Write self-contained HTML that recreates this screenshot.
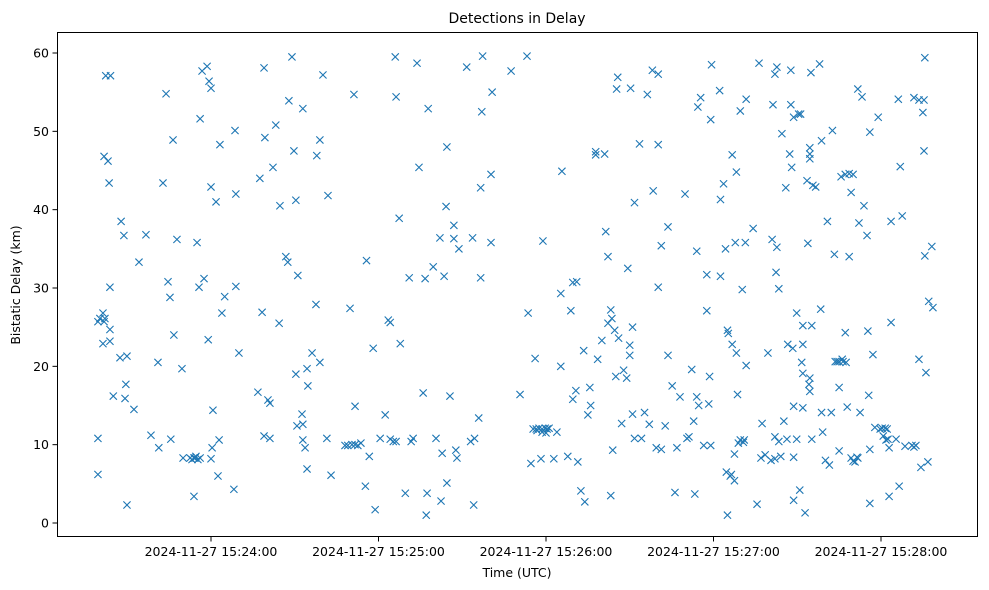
<!DOCTYPE html>
<html><head><meta charset="utf-8"><title>Detections in Delay</title>
<style>
html,body{margin:0;padding:0;background:#fff;}
svg{display:block;font-family:"DejaVu Sans","Liberation Sans",sans-serif;}
</style></head>
<body>
<svg id="chart" width="989" height="590" viewBox="0 0 989 590">
<rect x="0" y="0" width="989" height="590" fill="#fff"/>
<text x="517" y="23" text-anchor="middle" font-size="14" fill="#000">Detections in Delay</text>
<g id="marks"></g>
<g id="xaxis"></g>
<g id="yaxis"></g>
<rect x="57.5" y="32.5" width="920" height="504" fill="none" stroke="#000" stroke-width="1"/>
<text x="517" y="577" text-anchor="middle" font-size="12.5" fill="#000">Time (UTC)</text>
<text x="20" y="285" text-anchor="middle" font-size="12.5" fill="#000" transform="rotate(-90 20 285)">Bistatic Delay (km)</text>
</svg>
<script>
// seconds after 15:23:00 UTC, delay in km
const detections = [
[19.5,6.2],[19.5,10.8],[19.5,25.7],[20.2,26.1],[21.3,26.8],[21.7,25.7],[22,26.1],[21.3,22.9],[21.7,46.8],[22.3,57.1],[24,57.1],[23.1,46.2],[23.5,43.4],[23.8,30.1],[23.8,24.7],[23.8,23.2],[25,16.2],[27.4,21.1],[27.8,38.5],[28.8,36.7],[29.5,17.7],[29.9,21.3],[29.2,15.9],[29.9,2.3],[32.4,14.5],[34.2,33.3],[36.7,36.8],[38.5,11.2],[41,20.5],[41.3,9.6],[42.8,43.4],[43.9,54.8],[44.6,30.8],[45.3,28.8],[45.6,10.7],[46.4,48.9],[46.7,24],[47.8,36.2],[49.6,19.7],[50,8.3],
[52.5,8.3],[53.2,8.1],[54.3,8.3],[55.3,8.1],[56.1,8.3],[54.6,8.5],[53.9,8.3],[53.9,3.4],[55,35.8],[55.7,30.1],[56.1,51.6],[56.8,57.7],[57.5,31.2],[58.6,58.3],[59,23.4],[59.3,56.4],[60,55.5],[60,42.9],[60.7,14.4],[61.8,41],[62.9,10.6],[63.2,48.3],[63.9,26.8],[64.9,28.9],[62.5,6],[60.4,9.6],[60,8.2],[68.2,4.3],[68.6,50.1],[68.9,42],[68.9,30.2],[70,21.7],
[76.8,16.7],[77.5,44],[78.3,26.9],[79,58.1],[79.3,49.2],[79,11.1],[80.4,15.7],[81.1,15.3],[81.1,10.8],[82.2,45.4],[83.2,50.8],[84.4,25.5],[84.7,40.5],[86.8,34],[87.5,33.3],[87.9,53.9],[89,59.5],[89.7,47.5],[90.4,41.2],[90.4,19],[91.1,31.6],[90.8,12.4],[92.9,52.9],[92.6,13.9],[92.9,10.6],[92.9,12.6],[93.7,9.6],[94.4,19.7],[94.7,17.5],[94.4,6.9],[96.2,21.7],[97.6,27.9],[97.9,46.9],[99,48.9],[99,20.5],[100.1,57.2],[101.5,10.8],[101.9,41.8],[103,6.1],
[109.8,27.4],[111.2,54.7],[111.6,14.9],[108,9.9],[109,9.9],[110.5,10],[111.6,10],[112.6,9.9],[113.7,10.2],[115.7,33.5],[115.3,4.7],[116.7,8.5],[118.1,22.3],[118.8,1.7],[120.6,10.8],[122.4,13.8],[123.5,25.9],[124.2,25.6],[124.2,10.7],[125.3,10.4],[126,59.5],[126.3,54.4],[126.3,10.4],[127.4,38.9],[127.8,22.9],[129.6,3.8],[131,31.3],[131.7,10.4],[132.4,10.8],[133.8,58.7],[134.5,45.4],[136,16.6],[136.7,31.2],[137.4,3.8],[137.1,1],[137.8,52.9],[139.6,32.7],[140.6,10.8],[142,36.4],[142.4,2.8],[142.8,8.9],[143.5,31.5],[144.2,40.4],[144.5,48],[144.5,5.1],[145.6,16.2],[147,38],[147,36.3],[147.7,9.3],[148.1,8.3],[148.8,35],[151.6,58.2],[153,10.4],[153.7,36.4],[154.4,10.8],[154.1,2.3],[155.9,13.4],[156.6,42.8],[156.6,31.3],[157.3,59.6],[157,52.5],[160.3,44.5],[160.3,35.8],[160.7,55],
[167.5,57.7],[170.7,16.4],[173.2,59.6],[173.6,26.8],[174.6,7.6],[176.1,21],[175.4,12],[176.5,12],[177.5,12.1],[178.6,12],[179.7,12.1],[180.4,12],[181.1,12.1],[176.8,11.8],[178.6,11.6],[180,11.5],[178.9,36],[178.2,8.2],[182.8,8.2],[183.9,11.6],[185.7,44.9],[185.3,29.3],[185.3,20],[187.8,8.5],[188.9,27.1],[189.6,15.8],[189.6,30.7],[190.7,16.9],[191,30.8],[191.4,7.8],[192.5,4.1],[193.5,22],[193.9,2.7],[195,13.8],[195.7,17.3],[196,15],[197.8,47.4],[197.8,47],[198.5,20.9],[200,23.3],[201.4,37.2],[201,47.1],[202.2,34],[202.2,25.5],[203.2,27.2],[203.6,26.1],[203.2,3.5],[203.9,9.3],[204.6,24.6],[205,18.7],[205.3,55.4],[205.7,56.9],[206,23.6],[207.1,12.7],[207.8,19.5],[208.9,18.5],[209.3,32.5],[210,22.7],[210,21.4],[210.3,55.5],[211,25],[211,13.9],[211.7,40.9],[211.7,10.8],[213.5,48.4],[214.2,10.8],[215.3,14.1],[216.3,54.7],[217,12.6],[218.1,57.8],[218.4,42.4],[219.5,9.6],[220.2,48.3],[220.2,30.1],[220.2,57.3],[221.3,35.4],[221.3,9.4],[222.7,12.4],[223.7,37.8],[223.7,21.4],[225.2,17.5],[226.2,3.9],[226.9,9.6],[228,16.1],[229.8,42],[230.5,10.8],[231.2,11],[232.2,19.6],[232.9,13],[233.3,3.7],[234,34.7],[234,16.1],[234.4,53.1],[234.7,15],[235.4,54.3],[236.5,9.9],[237.6,27.1],[237.6,31.7],[238.3,15.2],[238.6,18.7],[239,9.9],[239,51.5],[239.3,58.5],
[242.2,55.2],[242.5,31.5],[242.5,41.3],[243.6,43.3],[244.3,35],[244.6,6.5],[245,24.6],[245,1],[245.3,24.2],[246,6],[246.4,6.2],[246.7,47],[246.7,22.8],[247.5,5.4],[247.5,8.8],[247.8,35.8],[248.2,44.8],[248.2,21.7],[248.6,16.4],[248.9,10.2],[249.6,52.6],[249.6,10.6],[250.3,29.8],[250.7,10.3],[251.4,35.8],[251.7,20.1],[251.7,54.1],[251,10.6],[254.2,37.6],[255.6,2.4],[257,8.3],[256.3,58.7],[257.4,12.7],[258.5,8.7],[259.5,21.7],[260.6,8],[261,36.2],[261.3,53.4],[262,11],[262,57.3],[262,8.2],[262.4,32],[262.7,58.2],[262.7,35.2],[263.4,29.9],[263.4,10.4],[264.1,8.5],[264.5,49.7],[265.2,13],[265.9,42.8],[266.3,10.7],[266.6,22.8],[267.3,47.1],[267.7,57.8],[267.7,53.4],[268,45.4],[268.4,22.3],[268.7,14.9],[268.7,8.4],[268.7,51.8],[268.7,2.9],[269.8,26.8],[269.8,10.7],[270.5,52.2],[271.2,52.2],[270.9,4.2],[272,25.2],[272,22.8],[272,14.7],[271.6,20.5],[272,19.1],[272.8,1.3],[273.5,43.7],[273.8,35.7],[274.2,17.7],[274.5,47.1],[274.5,46.5],[274.5,47.9],[274.5,18.5],[274.5,16.8],[274.9,57.5],[275.2,25.2],[275.2,10.7],[275.6,43.1],[276.6,42.9],[278,58.6],[278.4,27.3],[278.7,48.8],[278.7,14.1],[279.1,11.6],[280.1,8],[280.8,38.5],[281.5,7.4],[282.2,14.1],[282.6,50.1],[283.3,34.3],[283.6,20.6],[284.3,20.6],[285,20.6],[285,17.3],[285,9.2],[285.7,44.2],[286.1,20.9],[286.4,20.6],[287.2,24.3],[287.2,44.5],[287.5,20.5],[287.9,14.8],[288.6,44.6],[288.6,34],[289.3,42.2],[289.3,8.3],[290,7.9],[290.7,7.8],[291.4,8.4],[291.7,8.3],[290,44.5],[291.7,55.4],[292.1,38.3],[292.5,14.1],[293.2,54.4],[293.9,40.5],[295,36.7],[295.3,24.5],[296,9.4],[296,49.9],[295.6,16.3],[296,2.5],[297.1,21.5],[297.8,12.2],[299,51.8],[299.7,12],[300.4,12.1],[301.5,12.1],[300.8,11.1],[301.8,10.6],[302.2,12],[302.9,3.4],[302.9,9.6],[303.6,38.5],[302.5,10.7],[303.6,25.6],[305.4,10.7],[306.2,54.1],[306.5,4.7],[306.9,45.5],[307.6,39.2],[308.6,9.8],[311.1,9.9],[311.8,54.3],[311.8,9.7],[312.5,9.9],[313.6,20.9],[313.6,54],[314.3,7.1],[315,52.4],[315.4,54],[315.4,47.5],[315.7,34.1],[315.7,59.4],[316.1,19.2],[316.8,7.8],[317.1,28.3],[318.2,35.3],[318.6,27.5]
];
const xTickSeconds = [60,120,180,240,300];
const xTickLabels = ["2024-11-27 15:24:00","2024-11-27 15:25:00","2024-11-27 15:26:00","2024-11-27 15:27:00","2024-11-27 15:28:00"];
const yTickValues = [0,10,20,30,40,50,60];

const NS='http://www.w3.org/2000/svg';
function xScale(t){return 211 + (t-60)*(670/240);}
function yScale(k){return 523 - k*(470/60);}
function mk(tag,attrs,parent){const e=document.createElementNS(NS,tag);for(const a in attrs)e.setAttribute(a,attrs[a]);parent.appendChild(e);return e;}

const marks=document.getElementById('marks');
detections.forEach(function(d){
  const cx=xScale(d[0]), cy=yScale(d[1]), s=3.6;
  const p=mk('path',{d:'M'+(cx-s)+' '+(cy-s)+'L'+(cx+s)+' '+(cy+s)+'M'+(cx-s)+' '+(cy+s)+'L'+(cx+s)+' '+(cy-s),stroke:'#1f77b4','stroke-width':1.1,fill:'none'},marks);
  
  
});

const xg=document.getElementById('xaxis');
xTickSeconds.forEach(function(t,i){
  const x=xScale(t);
  const l=mk('line',{x1:x,x2:x,y1:537,y2:541.5,stroke:'#000','stroke-width':1},xg);
  
  
  const tx=mk('text',{x:x,y:556,'text-anchor':'middle','font-size':12.5,fill:'#000'},xg);
  tx.textContent=xTickLabels[i];
  
  
});
const yg=document.getElementById('yaxis');
yTickValues.forEach(function(v){
  const y=yScale(v);
  const l=mk('line',{x1:52.5,x2:57,y1:y,y2:y,stroke:'#000','stroke-width':1},yg);
  
  
  const tx=mk('text',{x:49,y:y+4.5,'text-anchor':'end','font-size':12.5,fill:'#000'},yg);
  tx.textContent=String(v);
  
  
});
</script>
</body></html>
